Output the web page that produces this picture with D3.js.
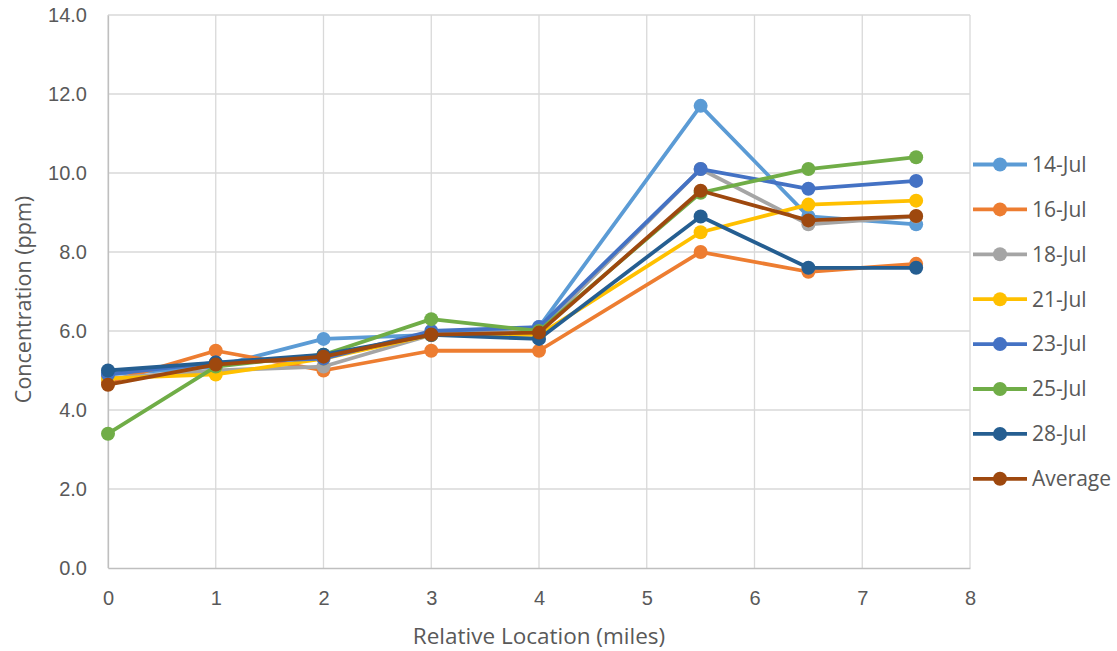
<!DOCTYPE html>
<html>
<head>
<meta charset="utf-8">
<script src="https://cdn.jsdelivr.net/npm/d3@7"></script>
<style>
  body { margin: 0; background: #fff; }
  svg { display: block; font-family: "Open Sans", "Noto Sans", sans-serif; }
</style>
</head>
<body>
<svg id="chart" width="1117" height="651"></svg>
<script>
// Sampling locations along the route (miles)
const locations = [0, 1, 2, 3, 4, 5.5, 6.5, 7.5];

// Concentration readings (ppm) per sampling date
const jul14 = [4.9, 5.1, 5.8, 5.9, 6.1, 11.7, 8.9, 8.7];
const jul16 = [4.7, 5.5, 5.0, 5.5, 5.5, 8.0, 7.5, 7.7];
const jul18 = [4.8, 5.0, 5.1, 5.9, 6.0, 10.1, 8.7, 8.9];
const jul21 = [4.8, 4.9, 5.3, 5.9, 5.9, 8.5, 9.2, 9.3];
const jul23 = [4.9, 5.2, 5.3, 6.0, 6.1, 10.1, 9.6, 9.8];
const jul25 = [3.4, 5.1, 5.4, 6.3, 6.0, 9.5, 10.1, 10.4];
const jul28 = [5.0, 5.2, 5.4, 5.9, 5.8, 8.9, 7.6, 7.6];
const average = [4.64, 5.15, 5.35, 5.91, 5.96, 9.55, 8.8, 8.91];

const seriesNames = ["14-Jul", "16-Jul", "18-Jul", "21-Jul", "23-Jul", "25-Jul", "28-Jul", "Average"];
const seriesValues = [jul14, jul16, jul18, jul21, jul23, jul25, jul28, average];
const seriesColors = ["#5B9BD5", "#ED7D31", "#A5A5A5", "#FFC000", "#4472C4", "#70AD47", "#255E91", "#9E480E"];

const xTicks = [0, 1, 2, 3, 4, 5, 6, 7, 8];
const yTicks = [0, 2, 4, 6, 8, 10, 12, 14];

const svg = d3.select("#chart");
const plot = { left: 108, right: 970, top: 15, bottom: 568 };

const x = d3.scaleLinear().domain([0, 8]).range([plot.left, plot.right]);
const y = d3.scaleLinear().domain([0, 14]).range([plot.bottom, plot.top]);

// Gridlines
const grid = svg.append("g");
grid.selectAll("line.h").data(yTicks.slice(1)).join("line")
  .attr("x1", plot.left).attr("x2", plot.right)
  .attr("y1", d => y(d)).attr("y2", d => y(d))
  .attr("stroke", "#d9d9d9").attr("stroke-width", 1.3);
grid.selectAll("line.v").data(xTicks).join("line")
  .attr("x1", d => x(d)).attr("x2", d => x(d))
  .attr("y1", plot.top).attr("y2", plot.bottom)
  .attr("stroke", "#d9d9d9").attr("stroke-width", 1.3);

// Axes
const xAxis = svg.append("g")
  .attr("transform", `translate(0,${plot.bottom})`)
  .call(d3.axisBottom(x).tickValues(xTicks).tickFormat(d3.format("d")).tickSize(0).tickPadding(23));
xAxis.select(".domain").attr("stroke", "#bfbfbf").attr("stroke-width", 1.3);
xAxis.selectAll("text").attr("fill", "#595959").style("font-size", "20px");

const yAxis = svg.append("g")
  .attr("transform", `translate(${plot.left},0)`)
  .call(d3.axisLeft(y).tickValues(yTicks).tickFormat(d3.format(".1f")).tickSize(0).tickPadding(21));
yAxis.select(".domain").attr("stroke", "#bfbfbf").attr("stroke-width", 1.3);
yAxis.selectAll("text").attr("fill", "#595959").style("font-size", "20px");

// Axis titles
svg.append("text")
  .attr("x", 539).attr("y", 644)
  .attr("text-anchor", "middle").attr("fill", "#595959").style("font-size", "22.5px")
  .text("Relative Location (miles)");
svg.append("text")
  .attr("transform", `translate(31,${(plot.top + plot.bottom) / 2 + 8}) rotate(-90)`)
  .attr("text-anchor", "middle").attr("fill", "#595959").style("font-size", "21.5px")
  .text("Concentration (ppm)");

// Series lines and markers
const line = d3.line().x(d => x(d[0])).y(d => y(d[1]));
seriesValues.forEach((vals, i) => {
  const pts = locations.map((loc, j) => [loc, vals[j]]);
  const g = svg.append("g");
  g.append("path").datum(pts)
    .attr("d", line).attr("fill", "none")
    .attr("stroke", seriesColors[i]).attr("stroke-width", 3.8)
    .attr("stroke-linejoin", "round");
  g.selectAll("circle").data(pts).join("circle")
    .attr("cx", d => x(d[0])).attr("cy", d => y(d[1])).attr("r", 7)
    .attr("fill", seriesColors[i]);
});

// Legend
const legend = svg.append("g");
seriesNames.forEach((name, i) => {
  const ly = 164.5 + i * 44.9;
  legend.append("line")
    .attr("x1", 973).attr("x2", 1027).attr("y1", ly).attr("y2", ly)
    .attr("stroke", seriesColors[i]).attr("stroke-width", 3.8);
  legend.append("circle").attr("cx", 1000).attr("cy", ly).attr("r", 7).attr("fill", seriesColors[i]);
  legend.append("text")
    .attr("x", 1032).attr("y", ly).attr("dy", "0.35em")
    .attr("fill", "#595959").style("font-size", "21px")
    .text(name);
});
</script>
</body>
</html>
